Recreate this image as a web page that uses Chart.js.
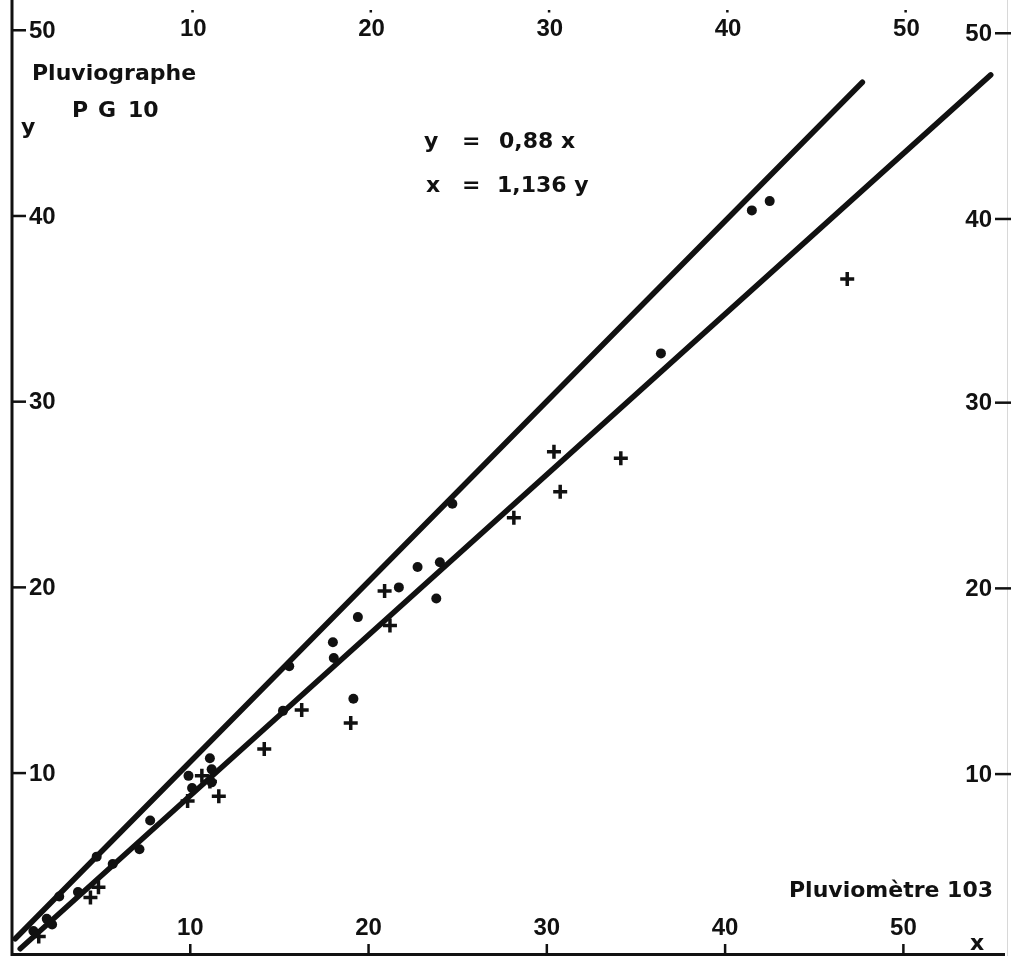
<!DOCTYPE html>
<html>
<head>
<meta charset="utf-8">
<title>Pluviographe PG 10 / Pluviomètre 103</title>
<script src="https://cdn.jsdelivr.net/npm/chart.js@4.4.1/dist/chart.umd.min.js"></script>
<style>
  html, body { margin: 0; padding: 0; background: #fff; overflow: hidden; }
  #wrap { width: 1011px; height: 956px; }
  canvas { display: block; }
</style>
</head>
<body>
<div id="wrap"><canvas id="chart" width="1011" height="956"></canvas></div>
<script>
// pluviomètre 103 (x) against pluviographe PG 10 (y)
const dotsX = [41.5, 42.5, 36.4, 24.7, 22.75, 24.0, 21.7, 23.8, 19.4, 18.0, 18.05, 19.15,
  15.55, 15.2, 11.1, 9.9, 11.2, 10.1, 11.2, 7.75, 7.15, 4.75, 5.65, 3.7, 2.65, 1.95, 2.25, 1.2];
const dotsY = [40.3, 40.8, 32.6, 24.5, 21.1, 21.35, 20.0, 19.4, 18.4, 17.05, 16.2, 14.0,
  15.75, 13.35, 10.8, 9.85, 10.2, 9.2, 9.5, 7.45, 5.9, 5.5, 5.1, 3.6, 3.35, 2.15, 1.85, 1.5];
const crossX = [46.85, 30.4, 34.15, 30.75, 28.15, 20.9, 21.2, 19.0, 16.25, 14.15, 10.65,
  11.1, 11.6, 9.85, 4.4, 4.85, 1.5];
const crossY = [36.6, 27.3, 26.95, 25.15, 23.75, 19.8, 17.95, 12.7, 13.4, 11.3, 9.85,
  9.55, 8.75, 8.5, 3.3, 3.85, 1.2];

// the two fitted lines, end points as drawn
const lineAX = [0.18, 47.7];
const lineAY = [1.08, 47.2];
const lineBX = [0.46, 54.9];
const lineBY = [0.54, 47.6];

const xTicks = [10, 20, 30, 40, 50];
const yTicks = [10, 20, 30, 40, 50];

const INK = '#111';
const NUM_FONT = 'bold 24px "Liberation Sans", Arial, sans-serif';
const TXT_FONT = 'bold 22px "DejaVu Sans", sans-serif';

const toPts = (xs, ys) => xs.map((x, i) => ({ x: x, y: ys[i] }));

// axes, ticks and lettering of the original figure
const paperAxes = {
  id: 'paperAxes',
  afterDraw(chart) {
    const ctx = chart.ctx;
    const area = chart.chartArea;
    const sx = chart.scales.x;
    const sy = chart.scales.y;
    const xL = sx.getPixelForValue(0);
    const yB = area.bottom - 1.5;

    ctx.save();
    ctx.strokeStyle = INK;
    ctx.fillStyle = INK;
    ctx.lineCap = 'butt';

    // left and bottom axis
    ctx.lineWidth = 3;
    ctx.beginPath();
    ctx.moveTo(xL, 0);
    ctx.lineTo(xL, area.bottom);
    ctx.moveTo(xL, yB);
    ctx.lineTo(area.right, yB);
    ctx.stroke();

    // faint right border
    ctx.strokeStyle = '#d8d8d8';
    ctx.lineWidth = 1;
    ctx.beginPath();
    ctx.moveTo(area.right + 2.5, 0);
    ctx.lineTo(area.right + 2.5, area.bottom);
    ctx.stroke();
    ctx.strokeStyle = INK;

    ctx.font = NUM_FONT;
    ctx.textBaseline = 'middle';
    ctx.lineWidth = 2.5;

    // left y ticks
    ctx.textAlign = 'left';
    yTicks.forEach(v => {
      const py = sy.getPixelForValue(v);
      ctx.beginPath();
      ctx.moveTo(xL, py);
      ctx.lineTo(xL + 14, py);
      ctx.stroke();
      ctx.fillText(String(v), xL + 17, py + 1);
    });

    // right y ticks
    ctx.textAlign = 'right';
    yTicks.forEach(v => {
      const py = sy.getPixelForValue(v) + (v >= 40 ? 3 : 1);
      ctx.beginPath();
      ctx.moveTo(chart.width - 16, py);
      ctx.lineTo(chart.width, py);
      ctx.stroke();
      ctx.fillText(String(v), chart.width - 19, py + 1);
    });

    // bottom and top x ticks
    ctx.textAlign = 'center';
    xTicks.forEach(v => {
      const px = sx.getPixelForValue(v);
      ctx.beginPath();
      ctx.moveTo(px, area.bottom);
      ctx.lineTo(px, area.bottom - 12);
      ctx.stroke();
      ctx.fillText(String(v), px, area.bottom - 28);
      ctx.fillText(String(v), px + 3, 29);
      ctx.fillRect(px + 1, 10, 2.5, 2.5);
    });

    // lettering
    ctx.font = TXT_FONT;
    ctx.textAlign = 'left';
    ctx.textBaseline = 'alphabetic';
    ctx.fillText('Pluviographe', 32, 80);
    ctx.letterSpacing = '10px';
    ctx.fillText('PG', 72, 117);
    ctx.letterSpacing = '0px';
    ctx.fillText('10', 128, 117);
    ctx.fillText('y', 21, 134);

    ctx.fillText('y', 424, 148);
    ctx.fillText('=', 462, 148);
    ctx.fillText('0,88 x', 499, 148);
    ctx.fillText('x', 426, 192);
    ctx.fillText('=', 462, 192);
    ctx.fillText('1,136 y', 497, 192);

    ctx.fillText('Pluviomètre 103', 789, 897);
    ctx.fillText('x', 970, 950);
    ctx.restore();
  }
};

new Chart(document.getElementById('chart'), {
  type: 'scatter',
  data: {
    datasets: [
      {
        label: 'droite 1',
        type: 'line',
        data: toPts(lineAX, lineAY),
        borderColor: INK,
        borderWidth: 5.5,
        borderCapStyle: 'round',
        pointRadius: 0,
        fill: false
      },
      {
        label: 'droite 2',
        type: 'line',
        data: toPts(lineBX, lineBY),
        borderColor: INK,
        borderWidth: 5.5,
        borderCapStyle: 'round',
        pointRadius: 0,
        fill: false
      },
      {
        label: 'points',
        data: toPts(dotsX, dotsY),
        pointStyle: 'circle',
        pointRadius: 5,
        backgroundColor: INK,
        borderColor: INK,
        borderWidth: 0,
        clip: false
      },
      {
        label: 'croix',
        data: toPts(crossX, crossY),
        pointStyle: 'cross',
        pointRadius: 7,
        borderColor: INK,
        borderWidth: 3.5,
        clip: false
      }
    ]
  },
  options: {
    responsive: false,
    animation: false,
    devicePixelRatio: 1,
    layout: { autoPadding: false, padding: { left: 12, right: 6, top: 0, bottom: 0 } },
    plugins: {
      legend: { display: false },
      tooltip: { enabled: false }
    },
    scales: {
      x: { type: 'linear', min: 0, max: 55.7, display: false },
      y: { type: 'linear', min: 0.15, max: 51.63, display: false }
    }
  },
  plugins: [paperAxes]
});
</script>
</body>
</html>
